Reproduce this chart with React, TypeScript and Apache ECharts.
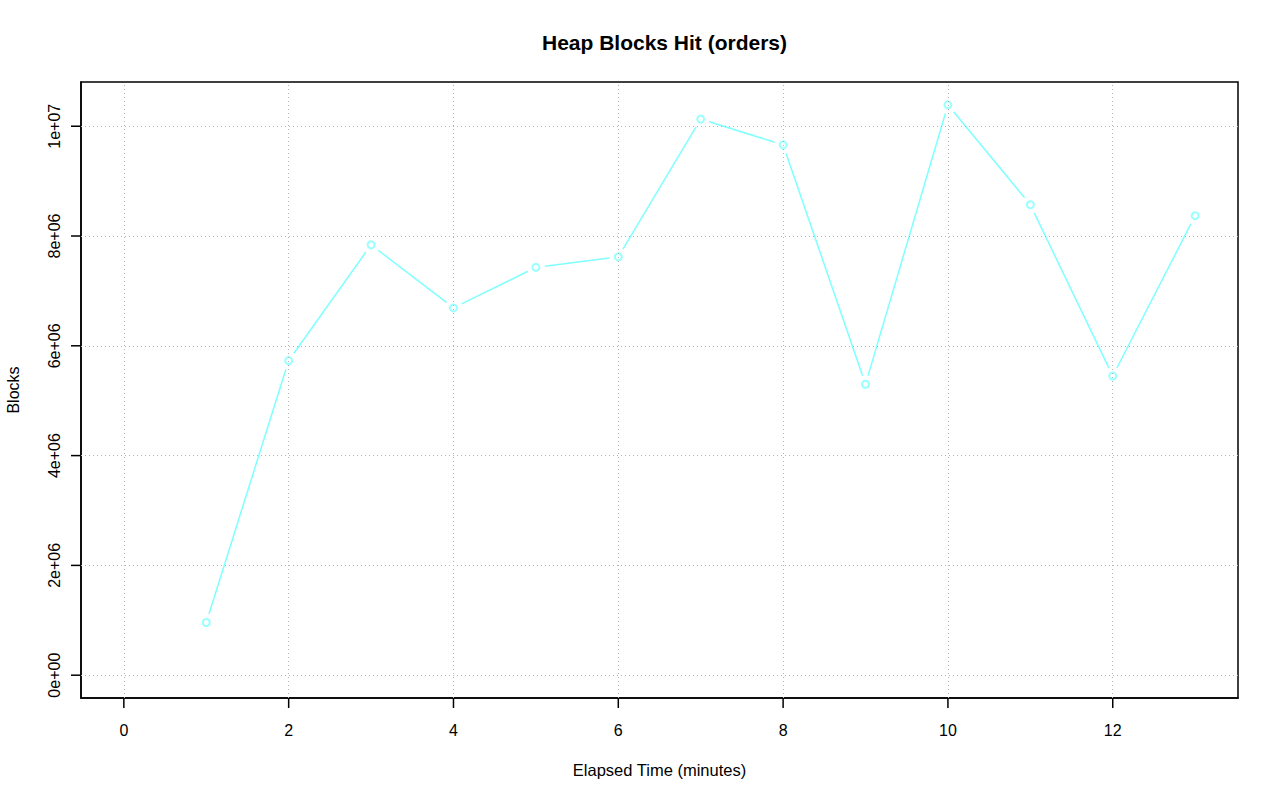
import React, { useEffect, useRef } from "react";
import * as echarts from "echarts";

const minutes = [1, 2, 3, 4, 5, 6, 7, 8, 9, 10, 11, 12, 13];
const blocks = [960000, 5730000, 7840000, 6690000, 7430000, 7620000, 10130000, 9660000, 5300000, 10390000, 8570000, 5450000, 8370000];
const xTicks = [0, 2, 4, 6, 8, 10, 12];
const yTicks = [0, 2000000, 4000000, 6000000, 8000000, 10000000];
const yTickLabels = ["0e+00", "2e+06", "4e+06", "6e+06", "8e+06", "1e+07"];

const TITLE = "Heap Blocks Hit (orders)";
const X_NAME = "Elapsed Time (minutes)";
const Y_NAME = "Blocks";

const LINE_COLOR = "#7FFFFF";
const FONT = "'Liberation Sans', Arial, Helvetica, sans-serif";
const TICK_LEN = 10;

export default function App() {
  const ref = useRef<HTMLDivElement>(null);
  useEffect(() => {
    if (!ref.current) return;
    const chart = echarts.init(ref.current, null, { renderer: "svg" });
    const xMinD = 0;
    const xMaxD = 13;
    const yMinD = 0;
    const yMaxD = Math.max(...blocks);
    const xPad = (xMaxD - xMinD) * 0.04;
    const yPad = (yMaxD - yMinD) * 0.04;

    const segments: number[][] = [];
    for (let i = 0; i < minutes.length - 1; i++) {
      segments.push([minutes[i], blocks[i], minutes[i + 1], blocks[i + 1]]);
    }
    const points = minutes.map((m, i) => [m, blocks[i]]);
    const xTickData = xTicks.map((v) => [v, yTicks[0]]);
    const yTickData = yTicks.map((v) => [xTicks[0], v]);

    const tickStyle = { color: "#000", width: 1.5 };
    const gridLeft = 81;
    const gridWidth = 1157;

    chart.setOption({
      animation: false,
      backgroundColor: "#fff",
      textStyle: { fontFamily: FONT },
      title: {
        text: TITLE,
        left: gridLeft + gridWidth / 2,
        textAlign: "center",
        top: 27,
        textStyle: { fontFamily: FONT, fontSize: 21, fontWeight: "bold", color: "#000" },
      },
      grid: {
        left: gridLeft,
        top: 82,
        width: gridWidth,
        height: 616,
        containLabel: false,
        outerBoundsMode: "none",
        show: true,
        borderColor: "#000",
        borderWidth: 1.5,
        backgroundColor: "transparent",
      },
      xAxis: {
        type: "value",
        min: xMinD - xPad,
        max: xMaxD + xPad,
        name: X_NAME,
        nameLocation: "middle",
        nameGap: 63,
        nameTextStyle: { fontFamily: FONT, fontSize: 16.5, color: "#000" },
        axisLine: { show: true, onZero: false, lineStyle: tickStyle },
        splitLine: { show: false },
        axisTick: { show: false },
        axisLabel: {
          customValues: xTicks,
          margin: 24,
          fontFamily: FONT,
          fontSize: 16,
          color: "#000",
          formatter: (v: number) => String(v),
        },
      },
      yAxis: {
        type: "value",
        min: yMinD - yPad,
        max: yMaxD + yPad,
        name: Y_NAME,
        nameLocation: "middle",
        nameRotate: 90,
        nameGap: 60,
        nameTextStyle: { fontFamily: FONT, fontSize: 16, color: "#000" },
        axisLine: { show: true, onZero: false, lineStyle: tickStyle },
        splitLine: { show: false },
        axisTick: { show: false },
        axisLabel: {
          customValues: yTicks,
          rotate: 90,
          margin: 19,
          fontFamily: FONT,
          fontSize: 16,
          color: "#000",
          formatter: (v: number) => {
            const i = yTicks.indexOf(v);
            return i >= 0 ? yTickLabels[i] : "";
          },
        },
      },
      series: [
        {
          type: "line",
          data: [],
          z: 1,
          silent: true,
          markLine: {
            silent: true,
            symbol: ["none", "none"],
            label: { show: false },
            lineStyle: { color: "#B4B4B4", width: 1, type: [1, 3] },
            data: [
              ...xTicks.map((v) => ({ xAxis: v })),
              ...yTicks.map((v) => ({ yAxis: v })),
            ],
          },
        },
        {
          type: "custom",
          z: 5,
          silent: true,
          clip: false,
          data: xTickData,
          encode: { x: 0, y: 1 },
          renderItem: (params: any, api: any) => {
            const cs = params.coordSys;
            const p = api.coord([api.value(0), api.value(1)]);
            const yb = cs.y + cs.height;
            return {
              type: "line",
              shape: { x1: p[0], y1: yb, x2: p[0], y2: yb + TICK_LEN },
              style: { stroke: "#000", lineWidth: 1.5 },
            };
          },
        },
        {
          type: "custom",
          z: 5,
          silent: true,
          clip: false,
          data: yTickData,
          encode: { x: 0, y: 1 },
          renderItem: (params: any, api: any) => {
            const cs = params.coordSys;
            const p = api.coord([api.value(0), api.value(1)]);
            return {
              type: "line",
              shape: { x1: cs.x, y1: p[1], x2: cs.x - TICK_LEN, y2: p[1] },
              style: { stroke: "#000", lineWidth: 1.5 },
            };
          },
        },
        {
          type: "custom",
          z: 2,
          silent: true,
          data: segments,
          encode: { x: [0, 2], y: [1, 3] },
          renderItem: (params: any, api: any) => {
            const p0 = api.coord([api.value(0), api.value(1)]);
            const p1 = api.coord([api.value(2), api.value(3)]);
            const dx = p1[0] - p0[0];
            const dy = p1[1] - p0[1];
            const len = Math.sqrt(dx * dx + dy * dy);
            const gap = 9;
            if (len <= gap * 2) return null;
            const ux = dx / len;
            const uy = dy / len;
            return {
              type: "line",
              shape: {
                x1: p0[0] + ux * gap,
                y1: p0[1] + uy * gap,
                x2: p1[0] - ux * gap,
                y2: p1[1] - uy * gap,
              },
              style: { stroke: LINE_COLOR, lineWidth: 1.5 },
            };
          },
        },
        {
          type: "scatter",
          z: 3,
          silent: true,
          symbol: "emptyCircle",
          symbolSize: 7,
          data: points,
          itemStyle: { color: LINE_COLOR, borderColor: LINE_COLOR, borderWidth: 1.8 },
        },
      ],
    });
    return () => chart.dispose();
  }, []);
  return (
    <div
      ref={ref}
      style={{ position: "fixed", left: 0, top: 0, width: 1280, height: 801, background: "#fff" }}
    />
  );
}
